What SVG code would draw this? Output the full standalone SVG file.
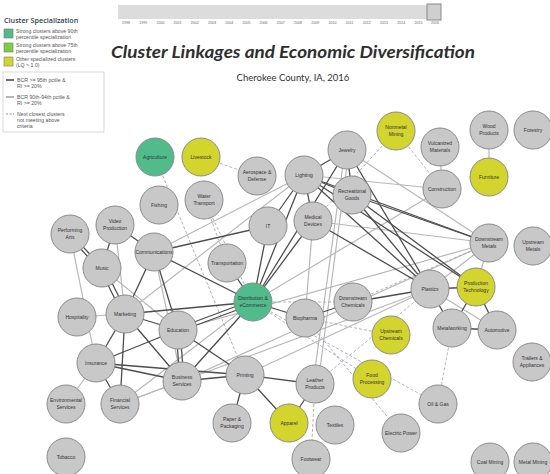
<svg xmlns="http://www.w3.org/2000/svg" width="550" height="474" viewBox="0 0 550 474">
<style>
.bg{fill:#ffffff}
.n circle{fill:#c8c8c8;stroke:#8a8a8a;stroke-width:1}
.n.gr circle{fill:#52bb8c}
.n.ye circle{fill:#d4d42e}
.n text{font-family:"Liberation Sans",Arial,sans-serif;font-size:5px;fill:#333;text-anchor:middle}
.s{stroke:#4d4d4d;stroke-width:1.3;fill:none}
.g{stroke:#b8b8b8;stroke-width:1.2;fill:none}
.d{stroke:#a9a9b8;stroke-width:0.9;stroke-dasharray:3 2;fill:none}
.lg{font-family:"Liberation Sans",Arial,sans-serif;font-size:5.2px;fill:#555}
.yr{font-family:"Liberation Sans",Arial,sans-serif;font-size:3.6px;fill:#666;text-anchor:middle}
</style>
<rect class="bg" x="0" y="0" width="550" height="474"/>

<g id="timeline">
<rect x="118" y="5" width="322" height="14" fill="#dcdcdc"/>
<rect x="427" y="4" width="14" height="16" fill="#cfcfcf" stroke="#8a8a8a" stroke-width="1"/>
<g class="yr">
<text class="yr" x="126" y="23.5">1998</text><text class="yr" x="143.2" y="23.5">1999</text><text class="yr" x="160.4" y="23.5">2000</text><text class="yr" x="177.6" y="23.5">2001</text><text class="yr" x="194.8" y="23.5">2002</text><text class="yr" x="212" y="23.5">2003</text><text class="yr" x="229.2" y="23.5">2004</text><text class="yr" x="246.4" y="23.5">2005</text><text class="yr" x="263.6" y="23.5">2006</text><text class="yr" x="280.8" y="23.5">2007</text><text class="yr" x="298" y="23.5">2008</text><text class="yr" x="315.2" y="23.5">2009</text><text class="yr" x="332.4" y="23.5">2010</text><text class="yr" x="349.6" y="23.5">2011</text><text class="yr" x="366.8" y="23.5">2012</text><text class="yr" x="384" y="23.5">2013</text><text class="yr" x="401.2" y="23.5">2014</text><text class="yr" x="418.4" y="23.5">2015</text><text class="yr" x="435" y="23.5">2016</text>
</g>
</g>

<g id="title">
<text x="293" y="58" font-family="Lato, 'Open Sans', sans-serif" font-style="italic" font-weight="700" font-size="17" fill="#2e2e2e" text-anchor="middle" textLength="364" lengthAdjust="spacingAndGlyphs">Cluster Linkages and Economic Diversification</text>
<text x="293" y="81" font-family="Lato, 'Open Sans', sans-serif" font-size="9.5" fill="#333" text-anchor="middle">Cherokee County, IA, 2016</text>
</g>

<g id="legend">
<text x="4" y="23" font-family="'Open Sans','Liberation Sans',sans-serif" font-size="7.2" font-weight="600" fill="#2f4052">Cluster Specialization</text>
<rect x="4" y="29" width="9" height="9" fill="#52bb8c" stroke="#777" stroke-width="0.6"/>
<text class="lg" x="16" y="33">Strong clusters above 90th</text>
<text class="lg" x="16" y="38.5">percentile specialization</text>
<rect x="4" y="43" width="9" height="9" fill="#7ccf3e" stroke="#777" stroke-width="0.6"/>
<text class="lg" x="16" y="47">Strong clusters above 75th</text>
<text class="lg" x="16" y="52.5">percentile specialization</text>
<rect x="4" y="57" width="9" height="9" fill="#d4d42e" stroke="#777" stroke-width="0.6"/>
<text class="lg" x="16" y="61">Other specialized clusters</text>
<text class="lg" x="16" y="66.5">(LQ &gt; 1.0)</text>
<rect x="3" y="72" width="101" height="60" fill="none" stroke="#cfcfcf" stroke-width="0.8"/>
<line x1="6" y1="80" x2="14" y2="80" stroke="#333" stroke-width="1.4"/>
<text class="lg" x="17" y="82">BCR &gt;= 95th pctile &amp;</text>
<text class="lg" x="17" y="88">RI &gt;= 20%</text>
<line x1="6" y1="97" x2="14" y2="97" stroke="#999" stroke-width="1.4"/>
<text class="lg" x="17" y="99">BCR 90th-94th pctile &amp;</text>
<text class="lg" x="17" y="105">RI &gt;= 20%</text>
<line x1="6" y1="114" x2="14" y2="114" stroke="#888" stroke-width="0.9" stroke-dasharray="2 1.5"/>
<text class="lg" x="17" y="116">Next closest clusters</text>
<text class="lg" x="17" y="122">not meeting above</text>
<text class="lg" x="17" y="128">criteria</text>
</g>

<g id="connectors">
<!-- gray (90th-94th) -->
<line class="g" x1="154" y1="252" x2="304" y2="175"/>
<line class="g" x1="125" y1="314" x2="304" y2="175"/>
<line class="g" x1="125" y1="314" x2="77" y2="317"/>
<line class="g" x1="96" y1="363" x2="66" y2="404"/>
<line class="g" x1="120" y1="404" x2="182" y2="381"/>
<line class="g" x1="120" y1="404" x2="253" y2="302"/>
<line class="g" x1="120" y1="404" x2="430" y2="289"/>
<line class="g" x1="182" y1="381" x2="489" y2="243"/>
<line class="g" x1="70" y1="234" x2="96" y2="363"/>
<line class="g" x1="102" y1="268" x2="178" y2="330"/>
<line class="g" x1="115" y1="225" x2="125" y2="314"/>
<line class="g" x1="442" y1="189" x2="304" y2="175"/>
<line class="g" x1="442" y1="189" x2="253" y2="302"/>
<line class="g" x1="442" y1="189" x2="440" y2="147"/>
<line class="g" x1="489" y1="177" x2="489" y2="130"/>
<line class="g" x1="313" y1="384" x2="345" y2="150"/>
<line class="g" x1="318" y1="384" x2="349" y2="150"/>
<line class="g" x1="430" y1="289" x2="489" y2="243"/>
<line class="g" x1="476" y1="287" x2="489" y2="243"/>
<line class="g" x1="305" y1="318" x2="313" y2="221"/>
<line class="g" x1="245" y1="375" x2="430" y2="289"/>
<line class="g" x1="347" y1="150" x2="489" y2="243"/>
<line class="g" x1="313" y1="221" x2="489" y2="243"/>
<line class="g" x1="430" y1="289" x2="497" y2="330"/>
<line class="g" x1="178" y1="330" x2="489" y2="243"/>
<line class="g" x1="154" y1="252" x2="182" y2="381"/>
<!-- dashed -->
<line class="d" x1="155" y1="157" x2="245" y2="375"/>
<line class="d" x1="201" y1="157" x2="257" y2="176"/>
<line class="d" x1="204" y1="200" x2="227" y2="263"/>
<line class="d" x1="204" y1="200" x2="253" y2="302"/>
<line class="d" x1="396" y1="131" x2="442" y2="189"/>
<line class="d" x1="396" y1="131" x2="313" y2="221"/>
<line class="d" x1="452" y1="328" x2="438" y2="404"/>
<line class="d" x1="315" y1="384" x2="311" y2="459"/>
<line class="d" x1="253" y1="302" x2="353" y2="302"/>
<line class="d" x1="305" y1="318" x2="401" y2="433"/>
<line class="d" x1="253" y1="302" x2="438" y2="404"/>
<line class="d" x1="315" y1="384" x2="430" y2="289"/>
<line class="d" x1="353" y1="302" x2="489" y2="243"/>
<line class="d" x1="305" y1="318" x2="391" y2="335"/>
<line class="d" x1="253" y1="302" x2="372" y2="379"/>
<!-- dark (95th) -->
<line class="s" x1="304" y1="175" x2="347" y2="150"/>
<line class="s" x1="304" y1="175" x2="268" y2="226"/>
<line class="s" x1="304" y1="175" x2="313" y2="221"/>
<line class="s" x1="304" y1="175" x2="253" y2="302"/>
<line class="s" x1="304" y1="175" x2="352" y2="195"/>
<line class="s" x1="304" y1="175" x2="430" y2="289"/>
<line class="s" x1="304" y1="175" x2="476" y2="287"/>
<line class="s" x1="304" y1="175" x2="489" y2="243"/>
<line class="s" x1="347" y1="150" x2="352" y2="195"/>
<line class="s" x1="347" y1="150" x2="253" y2="302"/>
<line class="s" x1="347" y1="150" x2="430" y2="289"/>
<line class="s" x1="352" y1="195" x2="430" y2="289"/>
<line class="s" x1="352" y1="195" x2="476" y2="287"/>
<line class="s" x1="352" y1="195" x2="489" y2="243"/>
<line class="s" x1="313" y1="221" x2="430" y2="289"/>
<line class="s" x1="313" y1="221" x2="253" y2="302"/>
<line class="s" x1="268" y1="226" x2="253" y2="302"/>
<line class="s" x1="268" y1="226" x2="154" y2="252"/>
<line class="s" x1="154" y1="252" x2="253" y2="302"/>
<line class="s" x1="154" y1="252" x2="125" y2="314"/>
<line class="s" x1="154" y1="252" x2="115" y2="225"/>
<line class="s" x1="154" y1="252" x2="178" y2="330"/>
<line class="s" x1="115" y1="225" x2="102" y2="268"/>
<line class="s" x1="70" y1="233" x2="101" y2="266"/>
<line class="s" x1="69" y1="236" x2="99" y2="269"/>
<line class="s" x1="104" y1="267" x2="127" y2="313"/>
<line class="s" x1="100" y1="269" x2="123" y2="315"/>
<line class="s" x1="125" y1="314" x2="178" y2="330"/>
<line class="s" x1="125" y1="314" x2="253" y2="302"/>
<line class="s" x1="125" y1="314" x2="96" y2="363"/>
<line class="s" x1="125" y1="314" x2="182" y2="381"/>
<line class="s" x1="125" y1="314" x2="120" y2="404"/>
<line class="s" x1="178" y1="328" x2="253" y2="300"/>
<line class="s" x1="178" y1="332" x2="253" y2="304"/>
<line class="s" x1="176" y1="330" x2="180" y2="381"/>
<line class="s" x1="180" y1="330" x2="184" y2="381"/>
<line class="s" x1="178" y1="330" x2="96" y2="363"/>
<line class="s" x1="178" y1="330" x2="245" y2="375"/>
<line class="s" x1="96" y1="363" x2="182" y2="381"/>
<line class="s" x1="96" y1="363" x2="245" y2="375"/>
<line class="s" x1="96" y1="363" x2="120" y2="404"/>
<line class="s" x1="182" y1="381" x2="253" y2="302"/>
<line class="s" x1="182" y1="381" x2="245" y2="375"/>
<line class="s" x1="245" y1="375" x2="315" y2="384"/>
<line class="s" x1="245" y1="375" x2="232" y2="423"/>
<line class="s" x1="245" y1="375" x2="289" y2="423"/>
<line class="s" x1="315" y1="384" x2="289" y2="423"/>
<line class="s" x1="253" y1="302" x2="305" y2="318"/>
<line class="s" x1="305" y1="318" x2="353" y2="302"/>
<line class="s" x1="353" y1="302" x2="430" y2="289"/>
<line class="s" x1="430" y1="289" x2="476" y2="287"/>
<line class="s" x1="430" y1="289" x2="452" y2="328"/>
<line class="s" x1="476" y1="287" x2="452" y2="328"/>
<line class="s" x1="476" y1="287" x2="497" y2="330"/>
<line class="s" x1="452" y1="328" x2="497" y2="330"/>
<line class="s" x1="227" y1="263" x2="253" y2="302"/>
</g>

<g id="nodes">
<g id="agriculture" class="n gr"><circle cx="155" cy="157" r="19"/><text x="155" y="159">Agriculture</text></g>
<g id="livestock" class="n ye"><circle cx="201" cy="157" r="19"/><text x="201" y="159">Livestock</text></g>
<g id="fishing" class="n"><circle cx="159" cy="205" r="19"/><text x="159" y="207">Fishing</text></g>
<g id="water-transport" class="n"><circle cx="204" cy="200" r="19"/><text x="204" y="198">Water</text><text x="204" y="205">Transport</text></g>
<g id="aerospace" class="n"><circle cx="257" cy="176" r="19"/><text x="257" y="174">Aerospace &amp;</text><text x="257" y="181">Defense</text></g>
<g id="lighting" class="n"><circle cx="304" cy="175" r="19"/><text x="304" y="177">Lighting</text></g>
<g id="jewelry" class="n"><circle cx="347" cy="150" r="19"/><text x="347" y="152">Jewelry</text></g>
<g id="nonmetal-mining" class="n ye"><circle cx="396" cy="131" r="19"/><text x="396" y="129">Nonmetal</text><text x="396" y="136">Mining</text></g>
<g id="vulcanized" class="n"><circle cx="440" cy="147" r="19"/><text x="440" y="145">Vulcanized</text><text x="440" y="152">Materials</text></g>
<g id="wood-products" class="n"><circle cx="489" cy="130" r="19"/><text x="489" y="128">Wood</text><text x="489" y="135">Products</text></g>
<g id="forestry" class="n"><circle cx="533" cy="130" r="19"/><text x="533" y="132">Forestry</text></g>
<g id="furniture" class="n ye"><circle cx="489" cy="177" r="19"/><text x="489" y="179">Furniture</text></g>
<g id="construction" class="n"><circle cx="442" cy="189" r="19"/><text x="442" y="191">Construction</text></g>
<g id="recreational-goods" class="n"><circle cx="352" cy="195" r="19"/><text x="352" y="193">Recreational</text><text x="352" y="200">Goods</text></g>
<g id="medical-devices" class="n"><circle cx="313" cy="221" r="19"/><text x="313" y="219">Medical</text><text x="313" y="226">Devices</text></g>
<g id="it" class="n"><circle cx="268" cy="226" r="19"/><text x="268" y="228">IT</text></g>
<g id="video-production" class="n"><circle cx="115" cy="225" r="19"/><text x="115" y="223">Video</text><text x="115" y="230">Production</text></g>
<g id="performing-arts" class="n"><circle cx="70" cy="234" r="19"/><text x="70" y="232">Performing</text><text x="70" y="239">Arts</text></g>
<g id="communications" class="n"><circle cx="154" cy="252" r="19"/><text x="154" y="254">Communications</text></g>
<g id="transportation" class="n"><circle cx="227" cy="263" r="19"/><text x="227" y="265">Transportation</text></g>
<g id="music" class="n"><circle cx="102" cy="268" r="19"/><text x="102" y="270">Music</text></g>
<g id="distribution" class="n gr"><circle cx="253" cy="302" r="19"/><text x="253" y="300">Distribution &amp;</text><text x="253" y="307">eCommerce</text></g>
<g id="downstream-chemicals" class="n"><circle cx="353" cy="302" r="19"/><text x="353" y="300">Downstream</text><text x="353" y="307">Chemicals</text></g>
<g id="biopharma" class="n"><circle cx="305" cy="318" r="19"/><text x="305" y="320">Biopharma</text></g>
<g id="downstream-metals" class="n"><circle cx="489" cy="243" r="19"/><text x="489" y="241">Downstream</text><text x="489" y="248">Metals</text></g>
<g id="upstream-metals" class="n"><circle cx="533" cy="246" r="19"/><text x="533" y="244">Upstream</text><text x="533" y="251">Metals</text></g>
<g id="plastics" class="n"><circle cx="430" cy="289" r="19"/><text x="430" y="291">Plastics</text></g>
<g id="production-technology" class="n ye"><circle cx="476" cy="287" r="19"/><text x="476" y="285">Production</text><text x="476" y="292">Technology</text></g>
<g id="metalworking" class="n"><circle cx="452" cy="328" r="19"/><text x="452" y="330">Metalworking</text></g>
<g id="automotive" class="n"><circle cx="497" cy="330" r="19"/><text x="497" y="332">Automotive</text></g>
<g id="upstream-chemicals" class="n ye"><circle cx="391" cy="335" r="19"/><text x="391" y="333">Upstream</text><text x="391" y="340">Chemicals</text></g>
<g id="trailers" class="n"><circle cx="532" cy="362" r="19"/><text x="532" y="360">Trailers &amp;</text><text x="532" y="367">Appliances</text></g>
<g id="hospitality" class="n"><circle cx="77" cy="317" r="19"/><text x="77" y="319">Hospitality</text></g>
<g id="marketing" class="n"><circle cx="125" cy="314" r="19"/><text x="125" y="316">Marketing</text></g>
<g id="education" class="n"><circle cx="178" cy="330" r="19"/><text x="178" y="332">Education</text></g>
<g id="food-processing" class="n ye"><circle cx="372" cy="379" r="19"/><text x="372" y="377">Food</text><text x="372" y="384">Processing</text></g>
<g id="insurance" class="n"><circle cx="96" cy="363" r="19"/><text x="96" y="365">Insurance</text></g>
<g id="business-services" class="n"><circle cx="182" cy="381" r="19"/><text x="182" y="379">Business</text><text x="182" y="386">Services</text></g>
<g id="printing" class="n"><circle cx="245" cy="375" r="19"/><text x="245" y="377">Printing</text></g>
<g id="leather-products" class="n"><circle cx="315" cy="384" r="19"/><text x="315" y="382">Leather</text><text x="315" y="389">Products</text></g>
<g id="oil-gas" class="n"><circle cx="438" cy="404" r="19"/><text x="438" y="406">Oil &amp; Gas</text></g>
<g id="environmental-services" class="n"><circle cx="66" cy="404" r="19"/><text x="66" y="402">Environmental</text><text x="66" y="409">Services</text></g>
<g id="financial-services" class="n"><circle cx="120" cy="404" r="19"/><text x="120" y="402">Financial</text><text x="120" y="409">Services</text></g>
<g id="paper-packaging" class="n"><circle cx="232" cy="423" r="19"/><text x="232" y="421">Paper &amp;</text><text x="232" y="428">Packaging</text></g>
<g id="apparel" class="n ye"><circle cx="289" cy="423" r="19"/><text x="289" y="425">Apparel</text></g>
<g id="textiles" class="n"><circle cx="335" cy="425" r="19"/><text x="335" y="427">Textiles</text></g>
<g id="electric-power" class="n"><circle cx="401" cy="433" r="19"/><text x="401" y="435">Electric Power</text></g>
<g id="tobacco" class="n"><circle cx="66" cy="457" r="19"/><text x="66" y="459">Tobacco</text></g>
<g id="footwear" class="n"><circle cx="311" cy="459" r="19"/><text x="311" y="461">Footwear</text></g>
<g id="coal-mining" class="n"><circle cx="490" cy="462" r="19"/><text x="490" y="464">Coal Mining</text></g>
<g id="metal-mining" class="n"><circle cx="533" cy="462" r="19"/><text x="533" y="464">Metal Mining</text></g>
</g>
</svg>
